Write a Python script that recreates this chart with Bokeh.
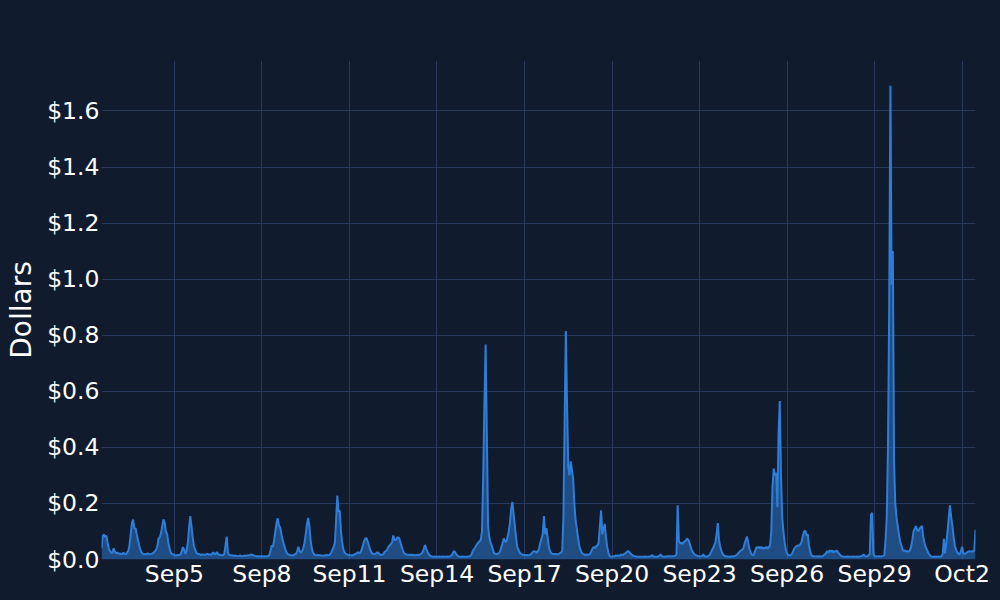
import pandas as pd
from bokeh.plotting import figure
from bokeh.models import ColumnDataSource, NumeralTickFormatter, FixedTicker, Range1d
from bokeh.embed import file_html
from bokeh.resources import INLINE

# ---------------- data (hourly cost in dollars) ----------------
start_time = "2023-09-02 12:00"

sep02 = [0.040, 0.085, 0.089, 0.080, 0.085, 0.060, 0.040, 0.030, 0.025, 0.022, 0.040, 0.028]
sep03 = [0.022, 0.025, 0.020, 0.022, 0.018, 0.020, 0.024, 0.020, 0.018, 0.025, 0.030, 0.050, 0.090, 0.130, 0.142, 0.110, 0.112, 0.090, 0.070, 0.050, 0.035, 0.025, 0.020, 0.018]
sep04 = [0.020, 0.018, 0.022, 0.020, 0.018, 0.020, 0.022, 0.025, 0.030, 0.035, 0.050, 0.075, 0.080, 0.095, 0.120, 0.143, 0.130, 0.100, 0.090, 0.060, 0.040, 0.025, 0.020, 0.018]
sep05 = [0.016, 0.015, 0.014, 0.017, 0.015, 0.018, 0.030, 0.044, 0.035, 0.020, 0.030, 0.060, 0.110, 0.155, 0.120, 0.080, 0.050, 0.035, 0.025, 0.020, 0.020, 0.018, 0.016, 0.018]
sep06 = [0.018, 0.017, 0.018, 0.020, 0.019, 0.018, 0.017, 0.020, 0.026, 0.018, 0.020, 0.027, 0.018, 0.017, 0.016, 0.015, 0.016, 0.020, 0.050, 0.082, 0.025, 0.016, 0.015, 0.015]
sep07 = [0.014, 0.013, 0.014, 0.013, 0.012, 0.013, 0.014, 0.013, 0.012, 0.013, 0.014, 0.013, 0.014, 0.015, 0.016, 0.018, 0.017, 0.015, 0.013, 0.012, 0.012, 0.011, 0.012, 0.011]
sep08 = [0.012, 0.011, 0.012, 0.011, 0.012, 0.013, 0.015, 0.030, 0.050, 0.045, 0.070, 0.100, 0.130, 0.147, 0.120, 0.115, 0.090, 0.070, 0.055, 0.040, 0.028, 0.020, 0.018, 0.016]
sep09 = [0.015, 0.014, 0.016, 0.018, 0.020, 0.030, 0.045, 0.030, 0.025, 0.030, 0.040, 0.060, 0.090, 0.125, 0.148, 0.120, 0.070, 0.040, 0.025, 0.018, 0.016, 0.015, 0.016, 0.015]
sep10 = [0.015, 0.014, 0.013, 0.015, 0.014, 0.016, 0.015, 0.016, 0.018, 0.025, 0.035, 0.045, 0.060, 0.140, 0.228, 0.170, 0.175, 0.100, 0.060, 0.035, 0.025, 0.020, 0.018, 0.016]
sep11 = [0.016, 0.015, 0.014, 0.016, 0.018, 0.020, 0.022, 0.026, 0.022, 0.025, 0.035, 0.050, 0.065, 0.075, 0.076, 0.065, 0.050, 0.035, 0.025, 0.020, 0.018, 0.020, 0.022, 0.026]
sep12 = [0.022, 0.018, 0.016, 0.017, 0.020, 0.028, 0.030, 0.035, 0.045, 0.050, 0.055, 0.060, 0.086, 0.070, 0.068, 0.075, 0.080, 0.075, 0.060, 0.045, 0.032, 0.022, 0.020, 0.018]
sep13 = [0.017, 0.016, 0.017, 0.016, 0.017, 0.016, 0.015, 0.016, 0.017, 0.016, 0.018, 0.020, 0.025, 0.035, 0.052, 0.040, 0.030, 0.020, 0.015, 0.012, 0.010, 0.010, 0.011, 0.010]
sep14 = [0.010, 0.010, 0.011, 0.010, 0.010, 0.011, 0.010, 0.010, 0.011, 0.010, 0.011, 0.012, 0.015, 0.022, 0.030, 0.025, 0.018, 0.013, 0.011, 0.010, 0.010, 0.011, 0.010, 0.010]
sep15 = [0.010, 0.010, 0.011, 0.012, 0.015, 0.025, 0.035, 0.040, 0.048, 0.055, 0.060, 0.065, 0.070, 0.100, 0.300, 0.550, 0.767, 0.450, 0.120, 0.080, 0.060, 0.050, 0.035, 0.022]
sep16 = [0.020, 0.018, 0.020, 0.022, 0.030, 0.045, 0.060, 0.075, 0.065, 0.062, 0.080, 0.100, 0.130, 0.180, 0.205, 0.165, 0.120, 0.080, 0.045, 0.035, 0.025, 0.020, 0.018, 0.016]
sep17 = [0.016, 0.015, 0.016, 0.015, 0.016, 0.018, 0.022, 0.028, 0.030, 0.028, 0.025, 0.030, 0.040, 0.060, 0.075, 0.090, 0.155, 0.090, 0.112, 0.080, 0.045, 0.030, 0.022, 0.020]
sep18 = [0.020, 0.018, 0.020, 0.019, 0.020, 0.022, 0.025, 0.030, 0.150, 0.500, 0.815, 0.550, 0.330, 0.300, 0.350, 0.320, 0.290, 0.200, 0.140, 0.110, 0.080, 0.050, 0.035, 0.025]
sep19 = [0.020, 0.018, 0.016, 0.018, 0.016, 0.018, 0.020, 0.030, 0.040, 0.045, 0.040, 0.048, 0.050, 0.060, 0.120, 0.175, 0.090, 0.110, 0.127, 0.080, 0.045, 0.025, 0.012, 0.010]
sep20 = [0.010, 0.012, 0.011, 0.014, 0.013, 0.015, 0.012, 0.016, 0.018, 0.015, 0.020, 0.022, 0.026, 0.030, 0.028, 0.022, 0.018, 0.015, 0.013, 0.012, 0.010, 0.010, 0.010, 0.010]
sep21 = [0.010, 0.010, 0.010, 0.011, 0.010, 0.010, 0.010, 0.011, 0.012, 0.016, 0.011, 0.010, 0.010, 0.010, 0.011, 0.014, 0.018, 0.012, 0.010, 0.010, 0.011, 0.012, 0.011, 0.012]
sep22 = [0.012, 0.011, 0.012, 0.012, 0.014, 0.018, 0.193, 0.065, 0.058, 0.060, 0.055, 0.062, 0.065, 0.070, 0.075, 0.068, 0.055, 0.040, 0.030, 0.022, 0.018, 0.015, 0.014, 0.012]
sep23 = [0.012, 0.011, 0.013, 0.018, 0.012, 0.010, 0.011, 0.012, 0.015, 0.022, 0.032, 0.040, 0.050, 0.060, 0.090, 0.130, 0.070, 0.045, 0.030, 0.020, 0.015, 0.012, 0.012, 0.011]
sep24 = [0.010, 0.011, 0.010, 0.012, 0.011, 0.013, 0.015, 0.018, 0.022, 0.028, 0.032, 0.035, 0.040, 0.055, 0.070, 0.082, 0.060, 0.040, 0.025, 0.018, 0.015, 0.020, 0.035, 0.045]
sep25 = [0.040, 0.045, 0.040, 0.045, 0.038, 0.042, 0.040, 0.045, 0.038, 0.045, 0.050, 0.100, 0.260, 0.324, 0.300, 0.310, 0.187, 0.450, 0.565, 0.300, 0.150, 0.100, 0.060, 0.035]
sep26 = [0.022, 0.016, 0.015, 0.016, 0.020, 0.030, 0.040, 0.045, 0.048, 0.050, 0.050, 0.055, 0.065, 0.085, 0.100, 0.103, 0.085, 0.090, 0.050, 0.030, 0.015, 0.012, 0.012, 0.011]
sep27 = [0.011, 0.012, 0.011, 0.012, 0.011, 0.012, 0.014, 0.018, 0.022, 0.030, 0.025, 0.033, 0.027, 0.032, 0.024, 0.030, 0.028, 0.032, 0.025, 0.020, 0.014, 0.012, 0.010, 0.010]
sep28 = [0.010, 0.010, 0.011, 0.010, 0.010, 0.010, 0.011, 0.010, 0.010, 0.011, 0.010, 0.010, 0.011, 0.012, 0.014, 0.018, 0.012, 0.011, 0.012, 0.015, 0.020, 0.160, 0.167, 0.020]
sep29 = [0.012, 0.011, 0.012, 0.011, 0.012, 0.011, 0.012, 0.013, 0.015, 0.070, 0.150, 0.400, 0.900, 1.690, 0.980, 1.100, 0.350, 0.200, 0.150, 0.120, 0.090, 0.065, 0.050, 0.035]
sep30 = [0.030, 0.032, 0.028, 0.030, 0.028, 0.032, 0.045, 0.070, 0.100, 0.110, 0.119, 0.105, 0.100, 0.110, 0.115, 0.120, 0.080, 0.060, 0.045, 0.035, 0.025, 0.018, 0.012, 0.010]
oct01 = [0.010, 0.010, 0.011, 0.010, 0.010, 0.011, 0.010, 0.012, 0.020, 0.074, 0.022, 0.060, 0.100, 0.150, 0.193, 0.150, 0.120, 0.080, 0.050, 0.035, 0.025, 0.020, 0.018, 0.030]
oct02 = [0.045, 0.022, 0.020, 0.022, 0.025, 0.028, 0.030, 0.028, 0.030, 0.028, 0.032, 0.106]

x_tick_dates = ["2023-09-05", "2023-09-08", "2023-09-11", "2023-09-14", "2023-09-17",
                "2023-09-20", "2023-09-23", "2023-09-26", "2023-09-29", "2023-10-02"]
x_tick_labels = ["Sep5", "Sep8", "Sep11", "Sep14", "Sep17", "Sep20", "Sep23", "Sep26", "Sep29", "Oct2"]
y_ticks = [0.0, 0.2, 0.4, 0.6, 0.8, 1.0, 1.2, 1.4, 1.6]
y_label = "Dollars"

# ---------------- build ----------------
days = [sep02, sep03, sep04, sep05, sep06, sep07, sep08, sep09, sep10, sep11, sep12,
        sep13, sep14, sep15, sep16, sep17, sep18, sep19, sep20, sep21, sep22, sep23,
        sep24, sep25, sep26, sep27, sep28, sep29, sep30, oct01, oct02]
values = [v for d in days for v in d]
times = pd.date_range(start_time, periods=len(values), freq="h")
src = ColumnDataSource(dict(t=times, v=values))

BG = "#111b2e"
GRID = "#28395c"
LINE = "#2e7dd6"
FONT = "DejaVu Sans"

p = figure(width=1000, height=600, x_axis_type="datetime", output_backend="svg",
           toolbar_location=None, background_fill_color=BG, border_fill_color=BG,
           min_border_left=101, min_border_right=25, min_border_top=60, min_border_bottom=41,
           x_range=Range1d(times[0], times[-1]), y_range=Range1d(0, 1.78))
p.outline_line_color = None

p.varea(x="t", y1=0, y2="v", source=src, fill_color=LINE, fill_alpha=0.5)
p.line(x="t", y="v", source=src, line_color=LINE, line_width=2)

tick_ms = [pd.Timestamp(d).value / 1e6 for d in x_tick_dates]
p.xaxis.ticker = FixedTicker(ticks=tick_ms)
p.xaxis.major_label_overrides = {t: lab for t, lab in zip(tick_ms, x_tick_labels)}
p.yaxis.ticker = FixedTicker(ticks=y_ticks)
p.yaxis.formatter = NumeralTickFormatter(format="$0.0")
p.yaxis.axis_label = y_label

for ax in (p.xaxis, p.yaxis):
    ax.axis_line_color = None
    ax.major_tick_line_color = None
    ax.minor_tick_line_color = None
    ax.major_tick_out = 0
    ax.major_tick_in = 0
    ax.minor_tick_out = 0
    ax.major_label_text_color = "white"
    ax.major_label_text_font = FONT
    ax.major_label_text_font_size = "23.5px"
    ax.axis_label_text_color = "white"
    ax.axis_label_text_font = FONT
    ax.axis_label_text_font_size = "28px"
    ax.axis_label_text_font_style = "normal"
p.xaxis.major_label_standoff = 0
p.yaxis.major_label_standoff = 2
p.yaxis.axis_label_standoff = 6

p.xgrid.grid_line_color = GRID
p.ygrid.grid_line_color = GRID
p.xgrid.grid_line_width = 1
p.ygrid.grid_line_width = 1

html = file_html(p, INLINE)
html = html.replace("<head>", "<head><style>html,body{background:%s;}</style>" % BG, 1)
open("out.html", "w").write(html)
